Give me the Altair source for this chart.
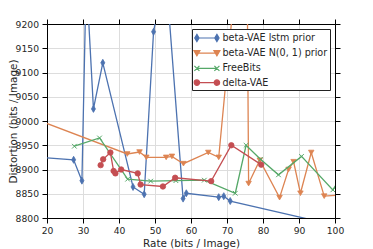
import altair as alt
import pandas as pd

names = ["beta-VAE lstm prior", "beta-VAE N(0, 1) prior", "FreeBits", "delta-VAE"]
colors = ["#4C72B0", "#DD8452", "#55A868", "#C44E52"]

lstm_rate = [18, 27.4, 29.7, 30.9, 32.9, 35.5, 43.9, 47.0, 49.6, 52.9, 57.8, 58.7, 67.7, 69.1, 70.9, 100]
lstm_dist = [8925, 8920, 8877, 9300, 9025, 9120, 8864, 8849, 9184, 9316, 8840, 8851, 8843, 8845, 8835, 8785]

normal_rate = [16, 42.3, 45.7, 47.6, 53.1, 54.7, 57.9, 64.8, 67.7, 75.4, 76.0, 79.1, 84.6, 87.1, 88.5, 90.4, 93.4, 97.0, 101]
normal_dist = [9006, 8932, 8936, 8925, 8925, 8927, 8912, 8935, 8925, 9530, 8871, 8919, 8842, 8900, 8916, 8851, 8935, 8845, 8847]

freebits_rate = [27.6, 34.6, 42.4, 48.8, 55.8, 63.7, 72.3, 75.3, 79.3, 84.3, 90.7, 99.4, 102]
freebits_dist = [8948, 8965, 8880, 8876, 8877, 8878, 8851, 8950, 8921, 8889, 8927, 8858, 8888]

delta_rate = [34.9, 35.6, 37.6, 38.5, 39.0, 40.6, 45.2, 46.0, 52.2, 55.6, 65.6, 71.2, 79.5]
delta_dist = [8909, 8921, 8935, 8897, 8892, 8900, 8892, 8869, 8865, 8883, 8876, 8950, 8910]

x_ticks = [20, 30, 40, 50, 60, 70, 80, 90, 100]
y_ticks = [8800, 8850, 8900, 8950, 9000, 9050, 9100, 9150, 9200]

# marker shapes (unit paths)
diamond = "M0,-1.17L0.67,0L0,1.17L-0.67,0Z"
tri_down = "M-1,-0.85L1,-0.85L0,0.85Z"
xmark = "M-0.85,-0.85L0.85,0.85M-0.85,0.85L0.85,-0.85"

L = 1.667
def leg_diamond(c):
    return f"M{c},-0.6L{c+0.36},0L{c},0.6L{c-0.36},0Z"
def leg_tri(c):
    return f"M{c-0.5},-0.42L{c+0.5},-0.42L{c},0.45Z"
def leg_x(c):
    return f"M{c-0.42},-0.42L{c+0.42},0.42M{c-0.42},0.42L{c+0.42},-0.42"
def leg_circle(c):
    r = 0.45
    return f"M{c-r},0A{r},{r} 0 1,0 {c+r},0A{r},{r} 0 1,0 {c-r},0Z"
base_line = f"M{-L},0L{L},0"
leg_paths = [
    base_line + leg_diamond(-L) + leg_diamond(L),
    base_line + leg_tri(-L) + leg_tri(L),
    base_line + leg_x(-L) + leg_x(L),
    base_line + leg_circle(-L) + leg_circle(L),
]

x_scale = alt.Scale(domain=[20, 100], nice=False, zero=False)
y_scale = alt.Scale(domain=[8800, 9200], nice=False, zero=False)

main_x_axis = alt.Axis(values=x_ticks, format="d", title="Rate (bits / Image)", grid=True,
                       labelFlush=False, labelPadding=3, titlePadding=3)
main_y_axis = alt.Axis(values=y_ticks, format="d", title="Distortion (bits / Image)", grid=True,
                       labelPadding=3.5, titleX=-38.4, titleY=97, titleAngle=270,
                       titleBaseline="top", titleAlign="center")

series = [
    (lstm_rate, lstm_dist, colors[0], diamond, 36, 0.8),
    (normal_rate, normal_dist, colors[1], tri_down, 30, 0.8),
    (freebits_rate, freebits_dist, colors[2], xmark, 30, 1.0),
    (delta_rate, delta_dist, colors[3], "circle", 30, 0.8),
]

layers = []
for i, (r, d, col, shp, sz, sw) in enumerate(series):
    df = pd.DataFrame({"rate": r, "dist": d})
    first = i == 0
    xenc = alt.X("rate:Q", scale=x_scale, axis=main_x_axis if first else None)
    yenc = alt.Y("dist:Q", scale=y_scale, axis=main_y_axis if first else None)
    line = alt.Chart(df).mark_line(color=col, strokeWidth=1.3, clip=True).encode(x=xenc, y=yenc)
    xenc2 = alt.X("rate:Q", scale=x_scale, axis=None)
    yenc2 = alt.Y("dist:Q", scale=y_scale, axis=None)
    pts = alt.Chart(df).mark_point(filled=True, fill=col, stroke=col, strokeWidth=sw, shape=shp,
                                   size=sz, opacity=1, clip=True).encode(x=xenc2, y=yenc2)
    layers += [line, pts]

legend = alt.Legend(title=None, orient="none", legendX=145, legendY=5, padding=2,
                    symbolOffset=5.9, labelOffset=8.6, rowPadding=2.2, symbolOpacity=1,
                    symbolSize=144, symbolStrokeWidth=1.2, strokeColor="#222222",
                    fillColor="white", cornerRadius=0, labelLimit=300)
leg_df = pd.DataFrame({"series": names})
leg_layer = alt.Chart(leg_df).mark_point(filled=True, opacity=0, size=144).encode(
    shape=alt.Shape("series:N", scale=alt.Scale(domain=names, range=leg_paths), legend=legend),
    fill=alt.Fill("series:N", scale=alt.Scale(domain=names, range=colors), legend=legend),
    stroke=alt.Stroke("series:N", scale=alt.Scale(domain=names, range=colors), legend=legend),
)

frame_df = pd.DataFrame({"rate": delta_rate, "dist": delta_dist})
frame_layer = alt.Chart(frame_df).mark_point(opacity=0).encode(
    x=alt.X("rate:Q", scale=x_scale,
            axis=alt.Axis(orient="top", values=x_ticks, labels=False, title=None, grid=False)),
    y=alt.Y("dist:Q", scale=y_scale,
            axis=alt.Axis(orient="right", values=y_ticks, labels=False, title=None, grid=False)),
)

chart = alt.layer(*layers, leg_layer, frame_layer).resolve_axis(
    x="independent", y="independent"
).properties(
    width=288, height=194,
    autosize=alt.AutoSizeParams(type="none"),
    padding={"left": 39, "top": 16, "right": 20, "bottom": 31},
).configure_view(stroke=None).configure_axis(
    domainColor="black", domainWidth=1, tickColor="black", tickWidth=1, tickSize=5,
    gridColor="#dddddd", gridWidth=1,
    labelFont="DejaVu Sans", labelFontSize=9.2, labelColor="#262626",
    titleFont="DejaVu Sans", titleFontSize=10.4, titleColor="#262626", titleFontWeight="normal",
).configure_legend(
    labelFont="DejaVu Sans", labelFontSize=9.6, labelColor="#262626",
)

chart.save("out.html", embed_options={"renderer": "svg", "actions": False})
